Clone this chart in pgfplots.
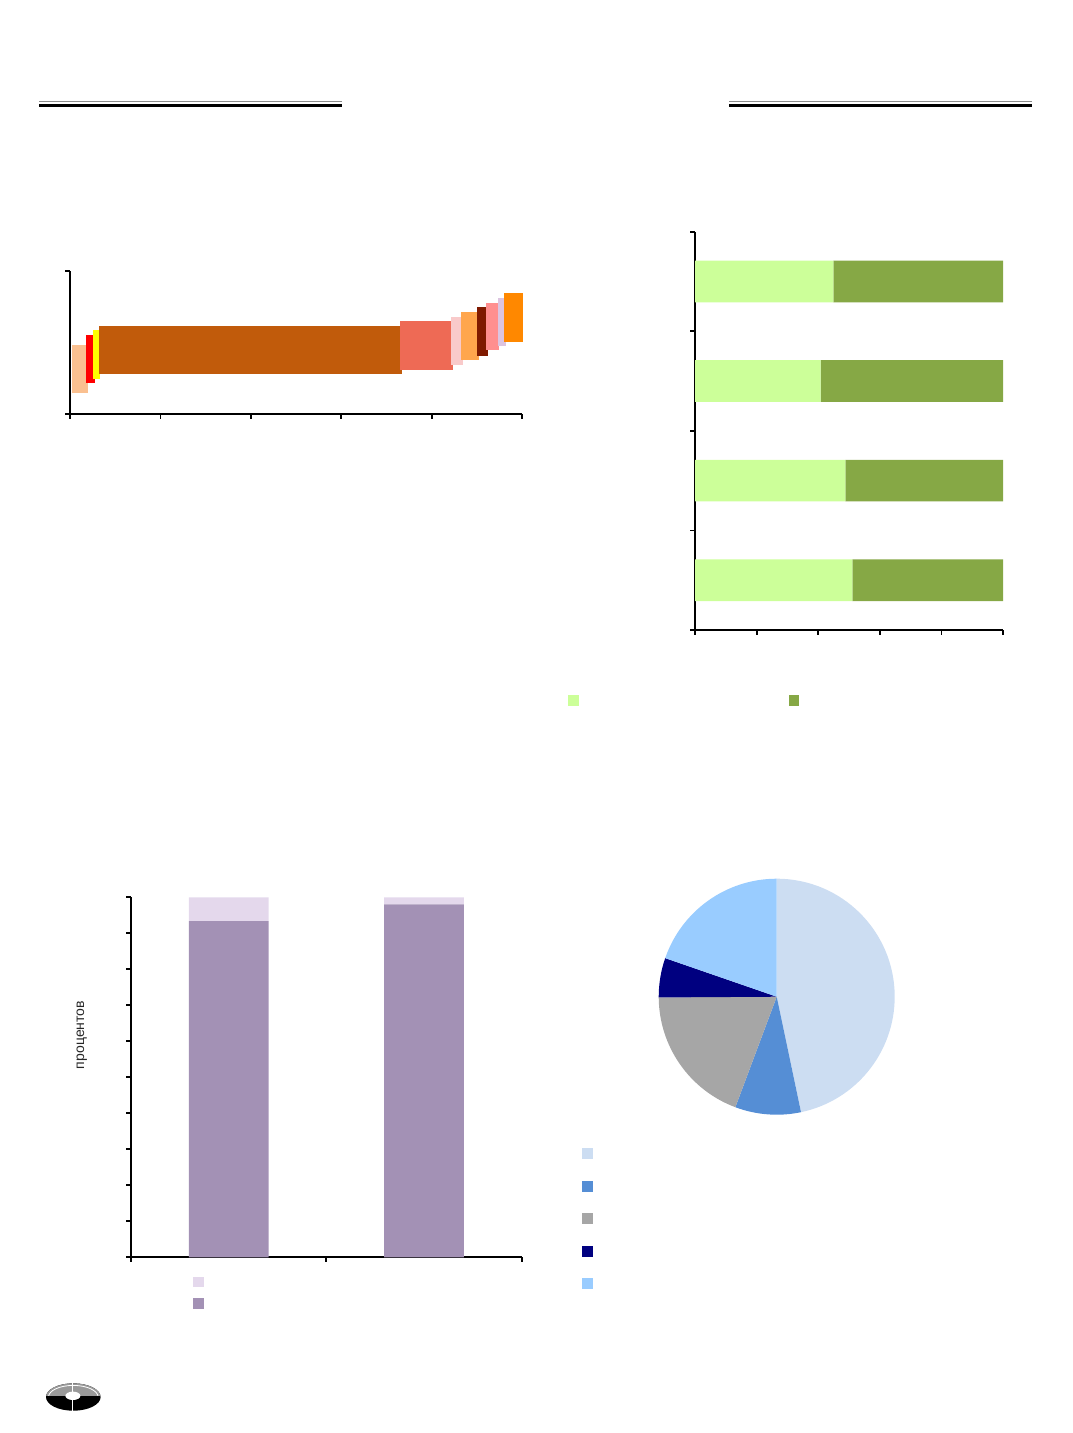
\documentclass[border=0pt]{standalone}
\usepackage{fontspec}
\setmainfont{Liberation Sans}
\usepackage{pgfplots}
\pgfplotsset{compat=1.18}

% chart 1 colours
\definecolor{cA}{HTML}{FAC090}
\definecolor{cB}{HTML}{FF0000}
\definecolor{cC}{HTML}{FFFF00}
\definecolor{cD}{HTML}{C15B0B}
\definecolor{cE}{HTML}{EE6A55}
\definecolor{cF}{HTML}{F9CACA}
\definecolor{cG}{HTML}{FFA64D}
\definecolor{cH}{HTML}{7F1A00}
\definecolor{cI}{HTML}{FF8F8F}
\definecolor{cJ}{HTML}{DCC4E0}
\definecolor{cK}{HTML}{FF8800}
% chart 2 colours
\definecolor{lgreen}{HTML}{CCFF99}
\definecolor{dgreen}{HTML}{86A845}
% chart 3 colours
\definecolor{lpurple}{HTML}{E4D8EC}
\definecolor{dpurple}{HTML}{A391B5}
% pie colours
\definecolor{pieA}{HTML}{CCDDF2}
\definecolor{pieB}{HTML}{558ED5}
\definecolor{pieC}{HTML}{A6A6A6}
\definecolor{pieD}{HTML}{000080}
\definecolor{pieE}{HTML}{99CCFF}

\pgfplotsset{
  plain/.style={
    scale only axis, anchor=south west, axis lines*=left,
    xticklabels={}, yticklabels={},
    tick align=outside, major tick length=2.3pt,
    axis line style={line width=0.9pt, black},
    every tick/.style={black, line width=0.9pt},
  }
}

\begin{document}
\begin{tikzpicture}
\path[use as bounding box] (0,0) rectangle (536pt,-716.5pt);

% header rules
\draw[black!45, line width=0.65pt] (19.7pt,-50.65pt) -- (171pt,-50.65pt);
\draw[black, line width=1.5pt] (19.7pt,-52.6pt) -- (171pt,-52.6pt);
\draw[black!45, line width=0.65pt] (364.7pt,-50.65pt) -- (516pt,-50.65pt);
\draw[black, line width=1.5pt] (364.7pt,-52.6pt) -- (516pt,-52.6pt);

% ---------- chart 1: variable-width floating bars ----------
\begin{axis}[plain, at={(35pt,-207.15pt)}, width=226pt, height=71.65pt,
  xmin=0, xmax=5, ymin=0, ymax=1, xtick={0,...,5}, ytick={0,1}, clip=false]
\addplot[fill=cA, draw=none] coordinates {(0.02,0.151) (0.195,0.151) (0.195,0.484) (0.02,0.484)} --cycle;
\addplot[fill=cB, draw=none] coordinates {(0.177,0.216) (0.273,0.216) (0.273,0.551) (0.177,0.551)} --cycle;
\addplot[fill=cC, draw=none] coordinates {(0.254,0.248) (0.332,0.248) (0.332,0.586) (0.254,0.586)} --cycle;
\addplot[fill=cD, draw=none] coordinates {(0.317,0.279) (3.673,0.279) (3.673,0.616) (0.317,0.616)} --cycle;
\addplot[fill=cE, draw=none] coordinates {(3.654,0.311) (4.234,0.311) (4.234,0.651) (3.654,0.651)} --cycle;
\addplot[fill=cF, draw=none] coordinates {(4.218,0.344) (4.347,0.344) (4.347,0.681) (4.218,0.681)} --cycle;
\addplot[fill=cG, draw=none] coordinates {(4.328,0.377) (4.520,0.377) (4.520,0.716) (4.328,0.716)} --cycle;
\addplot[fill=cH, draw=none] coordinates {(4.500,0.409) (4.620,0.409) (4.620,0.747) (4.500,0.747)} --cycle;
\addplot[fill=cI, draw=none] coordinates {(4.606,0.447) (4.750,0.447) (4.750,0.775) (4.606,0.775)} --cycle;
\addplot[fill=cJ, draw=none] coordinates {(4.731,0.475) (4.820,0.475) (4.820,0.814) (4.731,0.814)} --cycle;
\addplot[fill=cK, draw=none] coordinates {(4.797,0.507) (5.010,0.507) (5.010,0.844) (4.797,0.844)} --cycle;
\end{axis}

% ---------- chart 2: horizontal 100% stacked bars ----------
\begin{axis}[plain, at={(347.5pt,-315pt)}, width=154pt, height=199.15pt,
  xmin=0, xmax=100, ymin=0, ymax=4, xtick={0,20,...,100}, ytick={0,...,4},
  xbar stacked, bar width=20.85pt]
\addplot[fill=lgreen, draw=none] coordinates {(51.1,0.5) (48.8,1.5) (40.8,2.5) (44.9,3.5)};
\addplot[fill=dgreen, draw=none] coordinates {(48.9,0.5) (51.2,1.5) (59.2,2.5) (55.1,3.5)};
\end{axis}
\fill[lgreen] (284.15pt,-347.5pt) rectangle (289.5pt,-352.85pt);
\fill[dgreen] (394.35pt,-347.5pt) rectangle (399.65pt,-352.85pt);

% ---------- chart 3: vertical stacked bars ----------
\begin{axis}[plain, at={(65.5pt,-628.65pt)}, width=195.35pt, height=180pt,
  xmin=0, xmax=2, ymin=0, ymax=100, xtick={0,1,2}, ytick={0,10,...,100},
  ybar stacked, bar width=39.85pt,
  ylabel={процентов},
  every axis y label/.style={at={(rel axis cs:-0.126,0.6175)}, rotate=90, anchor=center,
    font=\fontsize{7}{8}\selectfont, text=black!85}]
\addplot[fill=dpurple, draw=none] coordinates {(0.5,93.4) (1.5,98.05)};
\addplot[fill=lpurple, draw=none] coordinates {(0.5,6.6) (1.5,1.95)};
\end{axis}
\fill[lpurple] (96.65pt,-638.35pt) rectangle (101.85pt,-643.65pt);
\fill[dpurple] (96.65pt,-649.15pt) rectangle (101.85pt,-654.35pt);

% ---------- chart 4: pie ----------
\begin{scope}[shift={(388.35pt,-498.35pt)}]
\def\cum{0}
\foreach \p/\c in {46.7/pieA, 9.0/pieB, 19.2/pieC, 5.4/pieD, 19.7/pieE} {
  \pgfmathsetmacro\s{90-3.6*\cum}
  \pgfmathsetmacro\e{90-3.6*(\cum+\p)}
  \fill[\c] (0,0) -- (\s:59pt) arc[start angle=\s, end angle=\e, radius=59pt] -- cycle;
  \pgfmathsetmacro\newcum{\cum+\p}
  \global\let\cum\newcum
}
\end{scope}
\fill[pieA] (291.15pt,-574.15pt) rectangle ++(5.2pt,-5.3pt);
\fill[pieB] (291.15pt,-590.5pt) rectangle ++(5.2pt,-5.3pt);
\fill[pieC] (291.15pt,-606.65pt) rectangle ++(5.2pt,-5.3pt);
\fill[pieD] (291.15pt,-623pt) rectangle ++(5.2pt,-5.3pt);
\fill[pieE] (291.15pt,-639.15pt) rectangle ++(5.2pt,-5.3pt);

% ---------- logo ----------
\begin{scope}[shift={(36.65pt,-698.5pt)}]
\fill[black] (0,0) ellipse [x radius=13.65pt, y radius=6.85pt];
\begin{scope}
\clip (-14pt,0.6pt) rectangle (14pt,7pt);
\fill[black!40] (0,0) ellipse [x radius=13.65pt, y radius=6.85pt];
\draw[white, line width=0.4pt] (0,0) ellipse [x radius=12.4pt, y radius=5.8pt];
\end{scope}
\fill[white] (-0.2pt,0.6pt) ellipse [x radius=3.75pt, y radius=2.1pt];
\draw[white, line width=0.5pt] (-0.2pt,6.9pt) -- (-0.2pt,-6.9pt);
\end{scope}
\end{tikzpicture}
\end{document}
